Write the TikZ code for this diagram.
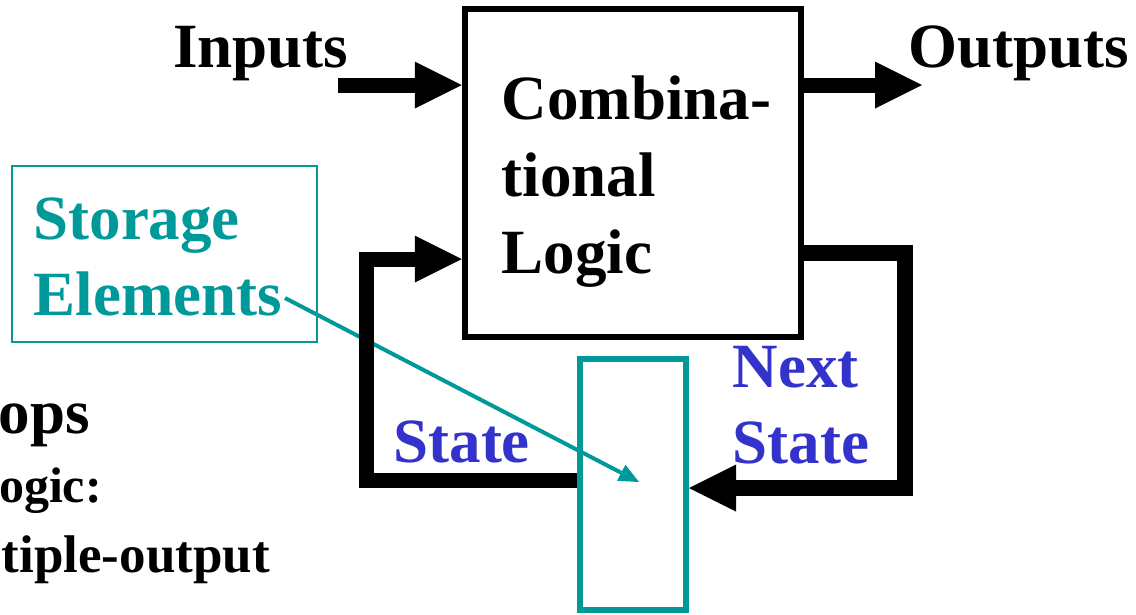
\documentclass[tikz,border=0pt]{standalone}
\usepackage{fontspec}
\setmainfont{Liberation Serif}
\usetikzlibrary{arrows.meta}
\definecolor{seqteal}{RGB}{0,153,153}
\definecolor{seqblue}{RGB}{51,51,204}
\tikzset{
  txt/.style={inner sep=0pt, font=\fontsize{63}{76}\selectfont\bfseries},
  small/.style={inner sep=0pt, font=\fontsize{53}{62}\selectfont\bfseries},
  bus/.style={line width=15pt, line join=miter},
  fat/.style={-{Triangle[length=47pt,width=47pt,line width=0pt]}},
}

\begin{document}
\begin{tikzpicture}[x=1pt,y=-1pt]
      \useasboundingbox (0,0) rectangle (1136,614);

      \node [draw, line width=6pt, minimum width=336.5pt, minimum height=328.5pt] (comb) at (633,173) {};
      \node [txt, font=\fontsize{63}{77}\selectfont\bfseries, anchor=base west, align=left] (combtxt) at (501.7,273) {Combina-\\tional\\Logic};
      \node [draw=seqteal, line width=6pt, minimum width=106pt, minimum height=251pt] (tank) at (633,484.5) {};
      \node [draw=seqteal, line width=2pt, minimum width=305pt, minimum height=176pt] (storbox) at (164.2,253.7) {};
      \node [txt, seqteal, anchor=base west, align=left] (storage) at (33.3,315.7) {Storage\\Elements};

      \node [txt, anchor=base west] (inputs) at (173,67) {Inputs};
      \node [txt, anchor=base west] (outputs) at (908,67) {Outputs};
      \node [txt, seqblue, anchor=base west] (state) at (393.3,462) {State};
      \node [txt, seqblue, anchor=base west, align=left] (next) at (732.7,463) {Next\\State};

      \node [txt, anchor=base east] (flops) at (90,433) {ops};
      \node [txt, font=\fontsize{50}{60}\selectfont\bfseries, anchor=base east] (logic) at (102,502) {ogic:};
      \node [small, anchor=base east] (multi) at (270,572) {tiple-output};

      \coordinate (in) at (338,85);
      \coordinate (out) at (922,85);
      \coordinate (elem) at (285,298);
      \coordinate (cell) at (639,482);

      \draw [seqteal, line width=4pt, -{Triangle[length=20pt,width=18pt,line width=0pt]}] (elem) -- (cell);

      \draw [bus, fat] (in) -- (comb.west |- in);
      \draw [bus, fat] (comb.east |- out) -- (out);
      \draw [bus, fat] (tank.west |- 0,480) -| (366.7,259) -- (comb.west |- 0,259);
      \draw [bus, line width=16pt, fat] (comb.east |- 0,253) -| (905,488) -- (tank.east |- 0,488);
    \end{tikzpicture}
\end{document}
